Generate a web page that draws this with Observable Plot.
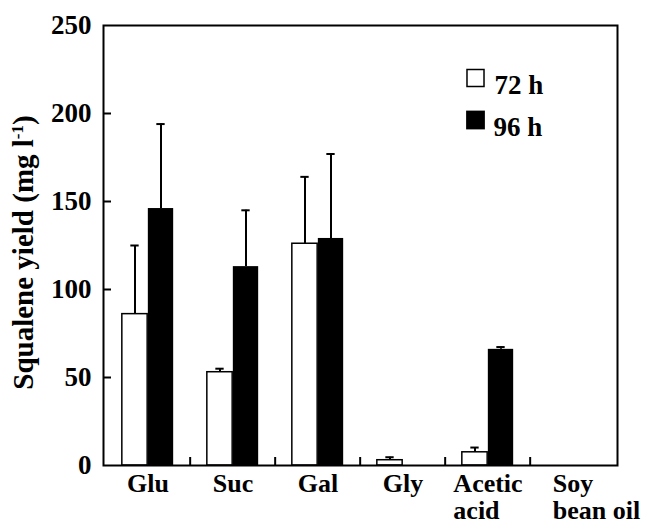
<!DOCTYPE html>
<html><head><meta charset="utf-8">
<script src="https://cdn.jsdelivr.net/npm/d3@7"></script>
<script src="https://cdn.jsdelivr.net/npm/@observablehq/plot@0.6"></script>
<style>
body{margin:0;background:#fff}
</style>
</head><body><div id="chart"></div>
<script>
const categories = ["Glu","Suc","Gal","Gly","Acetic\nacid","Soy\nbean oil"];
const series = ["72 h","96 h"];
const yield72 = [86, 53, 126, 3, 7.5, 0];
const err72   = [39, 2, 38, 1.7, 2.7, 0];
const yield96 = [146, 113, 129, 0, 66, 0];
const err96   = [48, 32, 48, 0, 1.3, 0];
const yTicks = [0, 50, 100, 150, 200, 250];
const yLabel = "Squalene yield (mg l-1)";

const W = 647, H = 529, mT = 25, mB = 64, mL = 103, mR = 30;
const plotW = W - mL - mR, plotH = H - mT - mB;
const bw = plotW / categories.length;
const barW = 26;

const rows = [];
categories.forEach((c, i) => {
  rows.push({cat: c, s: series[0], v: yield72[i], e: err72[i]});
  rows.push({cat: c, s: series[1], v: yield96[i], e: err96[i]});
});
const r72 = rows.filter(d => d.s === series[0]);
const r96 = rows.filter(d => d.s === series[1]);
const font = "Liberation Serif";

const chart = Plot.plot({
  width: W, height: H,
  marginTop: mT, marginBottom: mB, marginLeft: mL, marginRight: mR,
  style: {fontFamily: font, fontWeight: "bold", fontSize: "26px", color: "black", background: "white"},
  x: {domain: categories, padding: 0, label: null, tickSize: 0, tickPadding: 8},
  y: {domain: [0, 250], ticks: yTicks, label: null, tickSize: 0, tickPadding: 12},
  marks: [
    Plot.barY(r72, {x: "cat", y: "v", fill: "white", stroke: "black", strokeWidth: 1.5,
      insetLeft: bw/2 - barW, insetRight: bw/2}),
    Plot.barY(r96, {x: "cat", y: "v", fill: "black",
      insetLeft: bw/2, insetRight: bw/2 - barW}),
    Plot.ruleX(r72.filter(d => d.e > 0), {x: "cat", y1: "v", y2: d => d.v + d.e, dx: -barW/2, strokeWidth: 2}),
    Plot.ruleX(r96.filter(d => d.e > 0), {x: "cat", y1: "v", y2: d => d.v + d.e, dx: barW/2, strokeWidth: 2}),
    Plot.tickY(r72.filter(d => d.e > 0), {x: "cat", y: d => d.v + d.e, dx: -barW/2, insetLeft: (bw-9)/2, insetRight: (bw-9)/2, strokeWidth: 2}),
    Plot.tickY(r96.filter(d => d.e > 0), {x: "cat", y: d => d.v + d.e, dx: barW/2, insetLeft: (bw-9)/2, insetRight: (bw-9)/2, strokeWidth: 2}),
    Plot.ruleY(yTicks.slice(1, -1), {insetRight: plotW - 8, strokeWidth: 2}),
    Plot.ruleX(categories.slice(1), {x: d => d, dx: -bw/2, insetTop: plotH - 8, strokeWidth: 2}),
    Plot.frame({stroke: "black", strokeWidth: 2}),
    Plot.text([yLabel], {text: d => d, frameAnchor: "left", textAnchor: "middle", rotate: -90, dx: -80, dy: 7, fontSize: 29, fill: "black"}),
    Plot.dot([series[0]], {frameAnchor: "top-left", dx: 372, dy: 52.5, symbol: "square", r: 9.6, fill: "white", stroke: "black", strokeWidth: 1.5}),
    Plot.dot([series[1]], {frameAnchor: "top-left", dx: 372, dy: 94.5, symbol: "square", r: 10.6, fill: "black"}),
    Plot.text([series[0]], {text: d => d, frameAnchor: "top-left", dx: 391, dy: 49.5, textAnchor: "start", fontSize: 27, fill: "black"}),
    Plot.text([series[1]], {text: d => d, frameAnchor: "top-left", dx: 390, dy: 91.5, textAnchor: "start", fontSize: 27, fill: "black"})
  ]
});
document.getElementById("chart").appendChild(chart);
chart.setAttribute("font-family", font);
chart.setAttribute("font-weight", "bold");
chart.querySelectorAll("g").forEach(g => {
  if (g.hasAttribute("font-family")) g.setAttribute("font-family", font);
});
chart.querySelectorAll("text").forEach(t => {
  t.setAttribute("font-family", font);
  t.setAttribute("font-weight", "bold");
  t.style.fontFamily = "'Liberation Serif'";
  t.style.fontWeight = "bold";
});
// y tick labels slightly larger
chart.querySelectorAll("text").forEach(t => {
  if (yTicks.map(String).includes(t.textContent)) t.style.fontSize = "27px";
});
// multi-line x labels: first line centered, following lines left-aligned with it
chart.querySelectorAll("text").forEach(t => {
  const spans = t.querySelectorAll("tspan");
  if (spans.length > 1) {
    const w1 = spans[0].getComputedTextLength();
    t.setAttribute("text-anchor", "start");
    spans.forEach((s, i) => {
      s.setAttribute("x", -w1 / 2);
      if (i > 0) s.setAttribute("dy", "1.04em");
    });
  }
});
// superscript in y label
chart.querySelectorAll("text").forEach(t => {
  if (t.textContent === yLabel) {
    t.textContent = "Squalene yield (mg l";
    const sup = document.createElementNS("http://www.w3.org/2000/svg", "tspan");
    sup.setAttribute("dy", "-10"); sup.setAttribute("font-size", "17"); sup.textContent = "-1";
    const close = document.createElementNS("http://www.w3.org/2000/svg", "tspan");
    close.setAttribute("dy", "10"); close.textContent = ")";
    t.appendChild(sup); t.appendChild(close);
  }
});
</script></body></html>
